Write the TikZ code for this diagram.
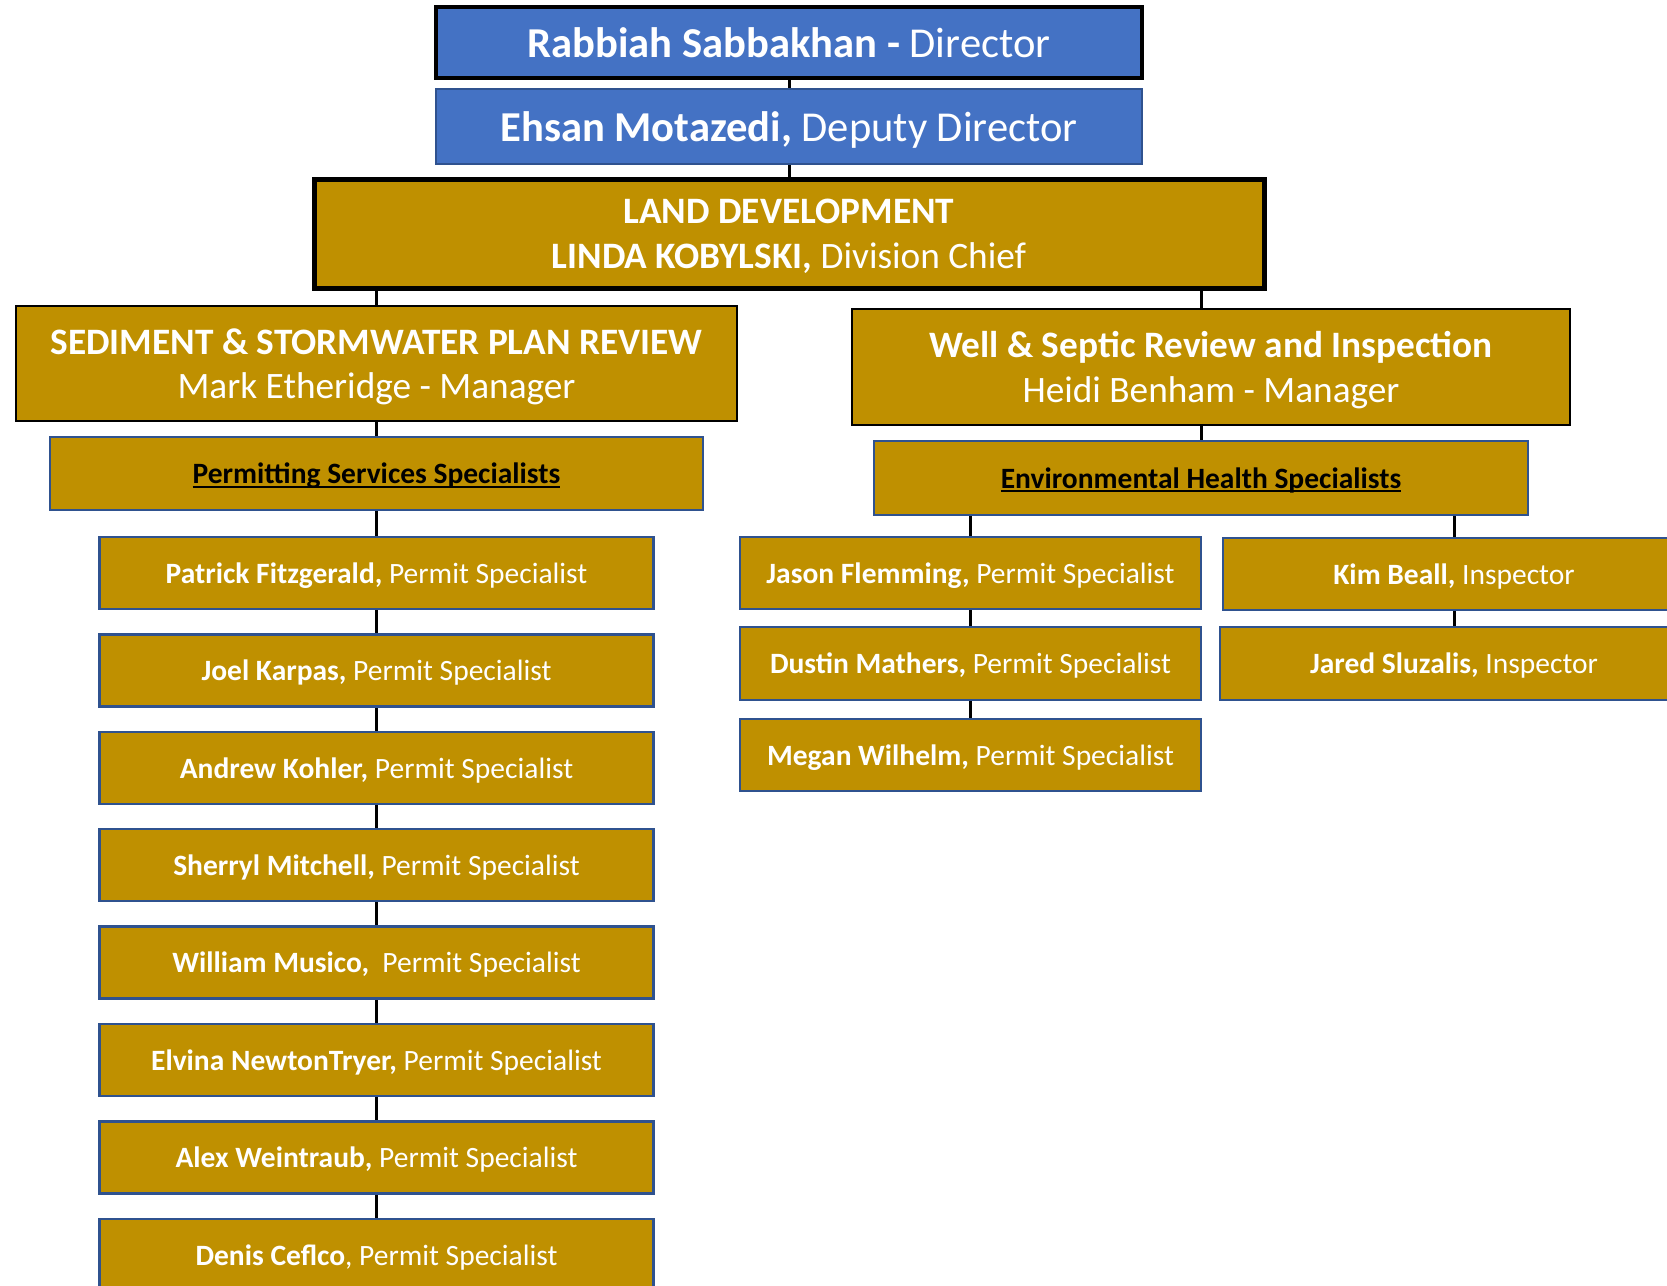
\documentclass[tikz,border=0pt]{standalone}
\usepackage{fontspec}
\setmainfont{Carlito}
\usetikzlibrary{backgrounds}
\definecolor{bfill}{HTML}{4472C4}
\definecolor{bline}{HTML}{2F528F}
\definecolor{gfill}{HTML}{BF9000}
\newcommand{\undl}[1]{\setbox0\hbox{#1}\rlap{\rule[-0.13em]{\wd0}{0.07em}}\box0}
\begin{document}
\begin{tikzpicture}[x=1pt,y=-1pt,
  base/.style={rectangle, inner sep=0pt, text=white, align=center, text depth=0pt},
  dirbox/.style={base, fill=bfill, draw=black, line width=3.5pt},
  depbox/.style={base, fill=bfill, draw=bline, line width=2pt},
  ldbox/.style={base, fill=gfill, draw=black, line width=5pt},
  headbox/.style={base, fill=gfill, draw=black, line width=2.5pt},
  grpbox/.style={base, fill=gfill, draw=bline, line width=2.5pt, text=black, text depth=-9pt},
  staff/.style={base, fill=gfill, draw=bline, line width=2.5pt, font=\fontsize{29.5pt}{35pt}\selectfont},
  conn/.style={draw=black, line width=3pt}
]
\useasboundingbox (0,0) rectangle (1667,1285);
\clip (0,0) rectangle (1667,1285);

\node[dirbox, minimum width=706pt, minimum height=71pt, font=\fontsize{42.6pt}{50pt}\selectfont] (dir) at (789,42.5) {\textbf{Rabbiah Sabbakhan -} Director};
\node[depbox, minimum width=706pt, minimum height=75pt, font=\fontsize{42.6pt}{50pt}\selectfont] (dep) at (789,126.5) {\textbf{Ehsan Motazedi,} Deputy Director};
\node[ldbox, minimum width=950pt, minimum height=109pt, font=\fontsize{37.3pt}{44.7pt}\selectfont, text depth=-4pt] (ld) at (789,233.5) {\textbf{LAND DEVELOPMENT}\\\textbf{LINDA KOBYLSKI,} Division Chief};

\node[headbox, minimum width=721pt, minimum height=115pt, font=\fontsize{37.3pt}{44.3pt}\selectfont] (sed) at (376.5,363.5) {\textbf{SEDIMENT \& STORMWATER PLAN REVIEW}\\Mark Etheridge - Manager};
\node[headbox, minimum width=718pt, minimum height=116pt, font=\fontsize{37.3pt}{44.5pt}\selectfont] (well) at (1211,367) {\textbf{Well \& Septic Review and Inspection}\\Heidi Benham - Manager};

\node[grpbox, minimum width=653pt, minimum height=73pt, font=\fontsize{29.5pt}{35pt}\selectfont\bfseries] (ps) at (376.5,473.5) {\undl{Permitting Services Specialists}};
\node[grpbox, minimum width=654pt, minimum height=74pt, font=\fontsize{29.5pt}{35pt}\selectfont\bfseries] (env) at (1201,478) {\undl{Environmental Health Specialists}};

\node[staff, minimum width=554pt, minimum height=72pt] (p1) at (376.5,573) {\textbf{Patrick Fitzgerald,} Permit Specialist};
\node[staff, minimum width=554pt, minimum height=72pt] (p2) at (376.5,670.4) {\textbf{Joel Karpas,} Permit Specialist};
\node[staff, minimum width=554pt, minimum height=72pt] (p3) at (376.5,767.8) {\textbf{Andrew Kohler,} Permit Specialist};
\node[staff, minimum width=554pt, minimum height=72pt] (p4) at (376.5,865.2) {\textbf{Sherryl Mitchell,} Permit Specialist};
\node[staff, minimum width=554pt, minimum height=72pt] (p5) at (376.5,962.6) {\textbf{William Musico,}\ \ Permit Specialist};
\node[staff, minimum width=554pt, minimum height=72pt] (p6) at (376.5,1060) {\textbf{Elvina NewtonTryer,} Permit Specialist};
\node[staff, minimum width=554pt, minimum height=72pt] (p7) at (376.5,1157.4) {\textbf{Alex Weintraub,} Permit Specialist};
\node[staff, minimum width=554pt, minimum height=72pt] (p8) at (376.5,1254.8) {\textbf{Denis Ceflco}, Permit Specialist};

\node[staff, minimum width=461pt, minimum height=72pt] (j1) at (970.5,573) {\textbf{Jason Flemming,} Permit Specialist};
\node[staff, minimum width=461pt, minimum height=73pt] (j2) at (970.5,663.5) {\textbf{Dustin Mathers,} Permit Specialist};
\node[staff, minimum width=461pt, minimum height=72pt] (j3) at (970.5,755) {\textbf{Megan Wilhelm,} Permit Specialist};

\node[staff, minimum width=462pt, minimum height=72pt] (kim) at (1454,574) {\textbf{Kim Beall,} Inspector};
\node[staff, minimum width=468pt, minimum height=73pt] (jar) at (1454,663.5) {\textbf{Jared Sluzalis,} Inspector};

\begin{pgfonlayer}{background}
\draw[conn] (dir) -- (dep);
\draw[conn] (dep) -- (ld);
\draw[conn] (ld.south -| sed) -- (sed);
\draw[conn] (sed) -- (ps);
\draw[conn] (ps) -- (p1);
\foreach \a/\b in {p1/p2,p2/p3,p3/p4,p4/p5,p5/p6,p6/p7,p7/p8}
  \draw[conn] (\a) -- (\b);
\draw[conn] (ld.south -| env) -- (well.north -| env);
\draw[conn] (well.south -| env) -- (env);
\draw[conn] (env.south -| j1) -- (j1);
\draw[conn] (j1) -- (j2);
\draw[conn] (j2) -- (j3);
\draw[conn] (env.south -| kim) -- (kim);
\draw[conn] (kim) -- (jar);
\end{pgfonlayer}
\end{tikzpicture}
\end{document}
